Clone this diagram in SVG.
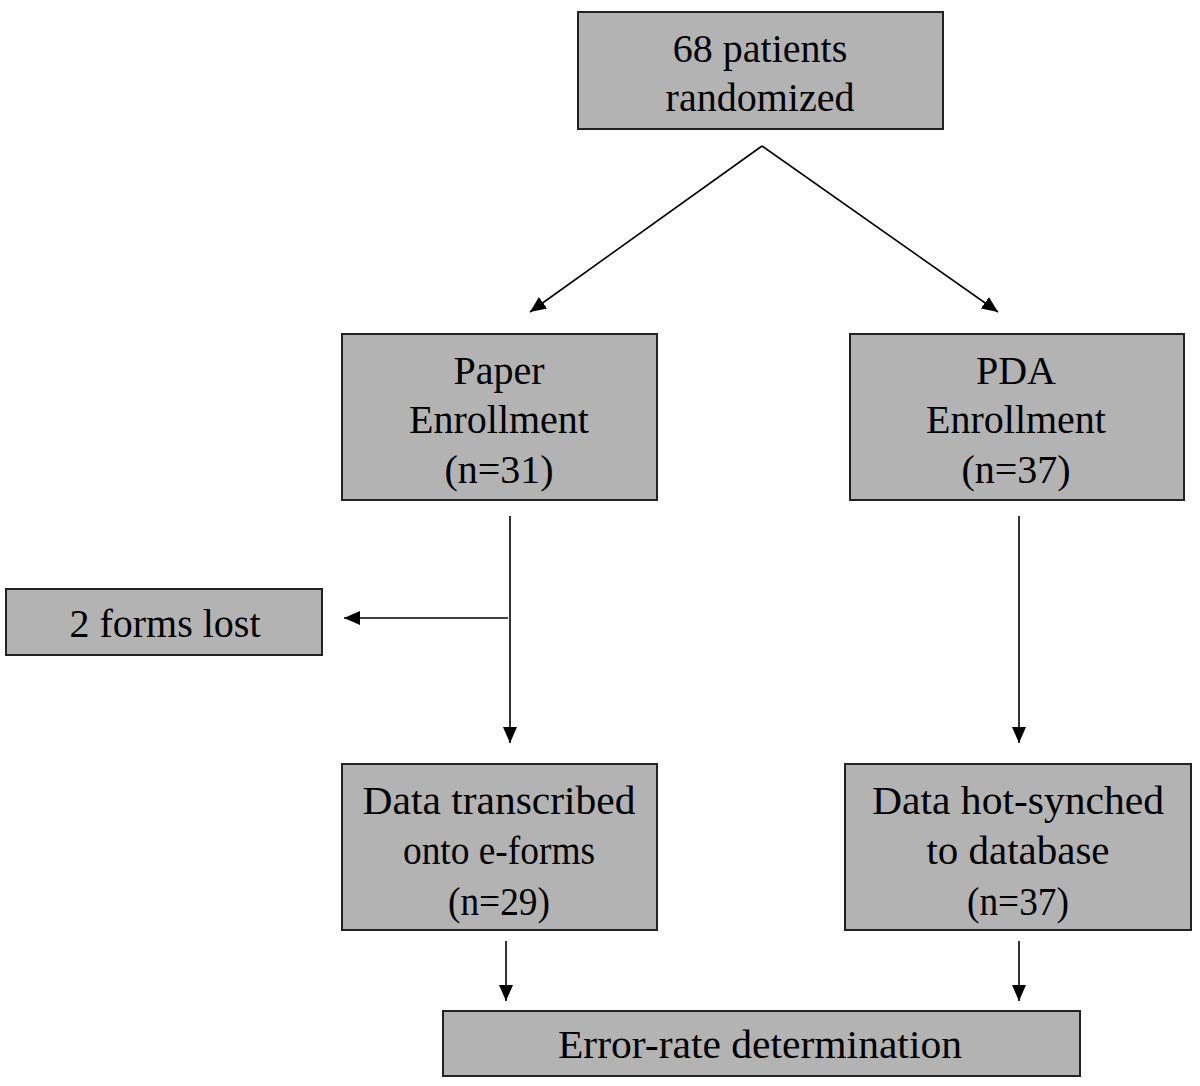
<svg xmlns="http://www.w3.org/2000/svg" width="1200" height="1086" viewBox="0 0 1200 1086">
<style>
.box{fill:#b3b3b3;stroke:#222;stroke-width:2}
.t{font-family:"Liberation Serif","Times New Roman",serif;font-size:40px;fill:#000;text-anchor:middle}
.c{stroke:#000;stroke-width:1.6;fill:none}
</style>
<defs>
<marker id="ah" markerUnits="userSpaceOnUse" markerWidth="18" markerHeight="14" refX="16" refY="7" orient="auto">
<path d="M0,0 L16,7 L0,14 Z" fill="#000"/>
</marker>
</defs>
<rect x="0" y="0" width="1200" height="1086" fill="#fff"/>
<g id="connectors">
<line class="c" x1="762" y1="146" x2="530" y2="312" marker-end="url(#ah)"/>
<line class="c" x1="762" y1="146" x2="998" y2="312" marker-end="url(#ah)"/>
<line class="c" x1="510" y1="516" x2="510" y2="743" marker-end="url(#ah)"/>
<line class="c" x1="508" y1="618" x2="344" y2="618" marker-end="url(#ah)"/>
<line class="c" x1="1019" y1="516" x2="1019" y2="743" marker-end="url(#ah)"/>
<line class="c" x1="506" y1="941" x2="506" y2="1001" marker-end="url(#ah)"/>
<line class="c" x1="1019" y1="941" x2="1019" y2="1001" marker-end="url(#ah)"/>
</g>
<g id="randomized">
<rect class="box" x="578" y="12" width="365" height="117"/>
<text class="t" x="760" y="62">68 patients</text>
<text class="t" x="760" y="111">randomized</text>
</g>
<g id="paper">
<rect class="box" x="342" y="334" width="315" height="166"/>
<text class="t" x="499" y="384">Paper</text>
<text class="t" x="499" y="433">Enrollment</text>
<text class="t" x="499" y="483">(n=31)</text>
</g>
<g id="pda">
<rect class="box" x="850" y="334" width="334" height="166"/>
<text class="t" x="1016" y="384">PDA</text>
<text class="t" x="1016" y="433">Enrollment</text>
<text class="t" x="1016" y="483">(n=37)</text>
</g>
<g id="lost">
<rect class="box" x="6" y="589" width="316" height="66"/>
<text class="t" x="165" y="637">2 forms lost</text>
</g>
<g id="transcribed">
<rect class="box" x="342" y="764" width="315" height="166"/>
<text class="t" x="499" y="814" textLength="273" lengthAdjust="spacingAndGlyphs" font-size="44">Data transcribed</text>
<text class="t" x="499" y="864" textLength="192" lengthAdjust="spacingAndGlyphs" font-size="44">onto e-forms</text>
<text class="t" x="499" y="915" textLength="102" lengthAdjust="spacingAndGlyphs" font-size="44">(n=29)</text>
</g>
<g id="synched">
<rect class="box" x="845" y="764" width="346" height="166"/>
<text class="t" x="1018" y="814" textLength="292" lengthAdjust="spacingAndGlyphs" font-size="44">Data hot-synched</text>
<text class="t" x="1018" y="864" textLength="183" lengthAdjust="spacingAndGlyphs" font-size="44">to database</text>
<text class="t" x="1018" y="915" textLength="102" lengthAdjust="spacingAndGlyphs" font-size="44">(n=37)</text>
</g>
<g id="errorrate">
<rect class="box" x="443" y="1011" width="637" height="65"/>
<text class="t" x="760" y="1058" textLength="404" lengthAdjust="spacingAndGlyphs" font-size="44">Error-rate determination</text>
</g>
</svg>
